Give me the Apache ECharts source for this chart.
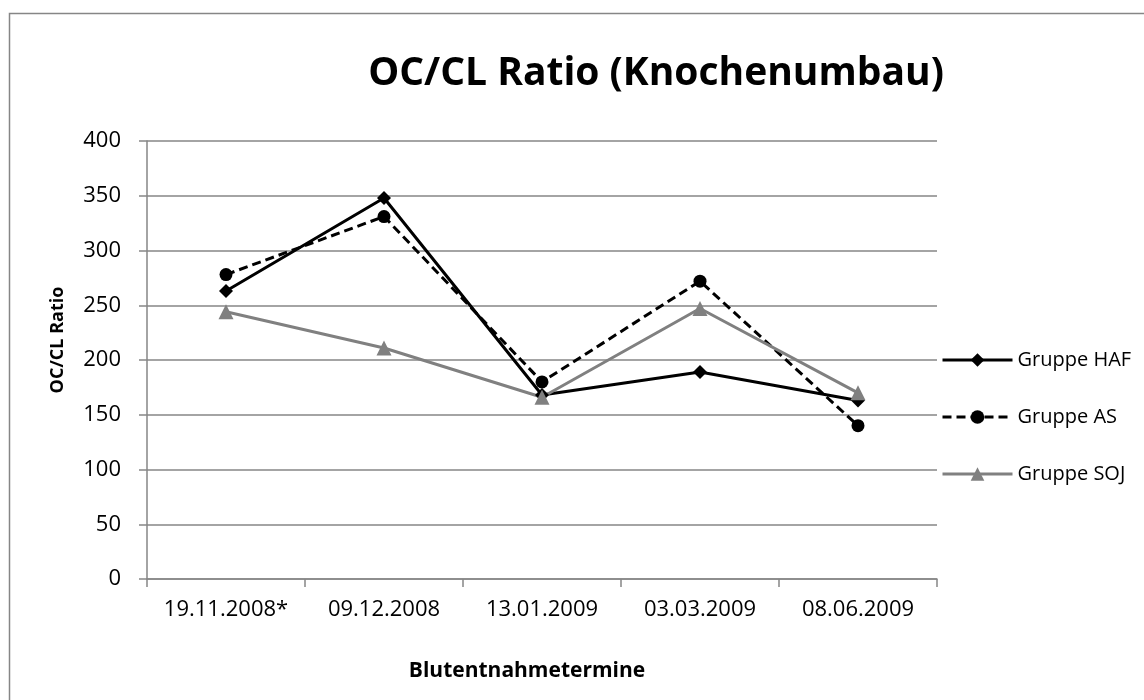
<!DOCTYPE html>
<html>
<head>
<meta charset="utf-8">
<script src="https://cdn.jsdelivr.net/npm/echarts@6/dist/echarts.min.js"></script>
<style>
  html, body { margin: 0; padding: 0; background: #fff; }
  #chart { width: 1144px; height: 700px; }
</style>
</head>
<body>
<div id="chart"></div>
<script>
var categories = ['19.11.2008*', '09.12.2008', '13.01.2009', '03.03.2009', '08.06.2009'];
var haf = [263, 348, 168, 189, 163];
var as = [278, 331, 180, 272, 140];
var soj = [244, 211, 166, 247, 170];

var font = '"Open Sans", sans-serif';
var myChart = echarts.init(document.getElementById('chart'));

myChart.setOption({
    backgroundColor: '#fff',
    animation: false,
    textStyle: { fontFamily: font },
    graphic: [{
        type: 'rect',
        shape: { x: 9.5, y: 13.5, width: 1300, height: 800 },
        style: { fill: 'none', stroke: '#868686', lineWidth: 1.5 },
        silent: true
    }],
    title: {
        text: 'OC/CL Ratio (Knochenumbau)',
        left: 651,
        textAlign: 'center',
        top: 49,
        textStyle: { fontFamily: font, fontSize: 39, fontWeight: 'bold', color: '#000' }
    },
    legend: {
        orient: 'vertical',
        left: 936,
        top: 345,
        itemWidth: 70,
        itemHeight: 17,
        itemGap: 37,
        lineStyle: { width: 3 },
        textStyle: { fontFamily: font, fontSize: 20, color: '#000' },
        data: ['Gruppe HAF', 'Gruppe AS', 'Gruppe SOJ']
    },
    grid: { left: 147, right: 207, top: 141, bottom: 121 },
    xAxis: {
        type: 'category',
        data: categories,
        boundaryGap: true,
        name: 'Blutentnahmetermine',
        nameLocation: 'middle',
        nameGap: 82,
        nameTextStyle: { fontFamily: font, fontSize: 21, fontWeight: 'bold', color: '#000', padding: [0, 30, 0, 0] },
        axisLine: { lineStyle: { color: '#868686', width: 1.5 } },
        axisTick: { show: true, interval: 0, length: 8, alignWithLabel: false, lineStyle: { color: '#868686', width: 1.5 } },
        axisLabel: { interval: 0, fontSize: 22, color: '#000', margin: 20 }
    },
    yAxis: {
        type: 'value',
        min: 0,
        max: 400,
        interval: 50,
        name: 'OC/CL Ratio',
        nameLocation: 'middle',
        nameGap: 80,
        nameTextStyle: { fontFamily: font, fontSize: 18, fontWeight: 'bold', color: '#000', padding: [0, 0, 0, 40] },
        axisLine: { show: true, lineStyle: { color: '#868686', width: 1.5 } },
        axisTick: { show: true, length: 8, lineStyle: { color: '#868686', width: 1.5 } },
        axisLabel: { fontSize: 22, color: '#000', margin: 26 },
        splitLine: { lineStyle: { color: '#868686', width: 1.5 } }
    },
    series: [{
        name: 'Gruppe HAF',
        type: 'line',
        data: haf,
        symbol: 'diamond',
        symbolSize: 14,
        itemStyle: { color: '#000' },
        lineStyle: { color: '#000', width: 3 }
    }, {
        name: 'Gruppe AS',
        type: 'line',
        data: as,
        symbol: 'circle',
        symbolSize: 13,
        itemStyle: { color: '#000' },
        lineStyle: { color: '#000', width: 3, type: [9, 5] }
    }, {
        name: 'Gruppe SOJ',
        type: 'line',
        data: soj,
        symbol: 'triangle',
        symbolSize: 15,
        itemStyle: { color: '#808080' },
        lineStyle: { color: '#808080', width: 3 }
    }]
});
</script>
</body>
</html>
